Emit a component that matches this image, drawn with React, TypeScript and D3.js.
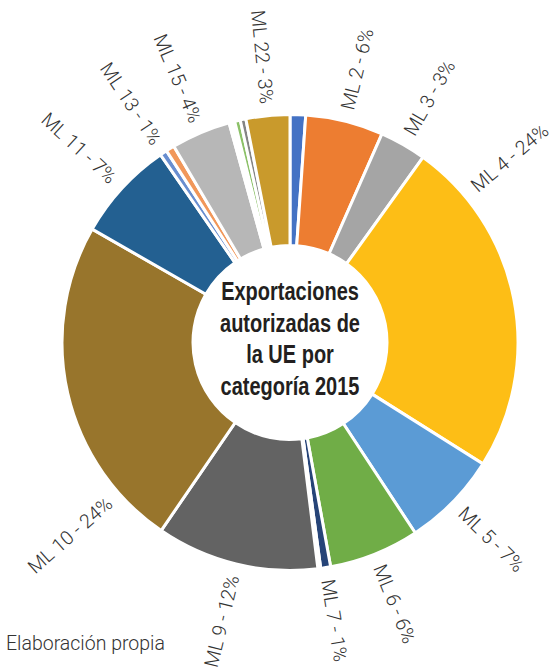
import React, { useEffect, useRef } from 'react';
import * as d3 from 'd3';

// categorías de material militar (ML) y su parte en % de las exportaciones
const categories = [
  'ML 1', 'ML 2', 'ML 3', 'ML 4', 'ML 5', 'ML 6', 'ML 7', 'ML 8', 'ML 9', 'ML 10', 'ML 11',
  'ML 12', 'ML 13', 'ML 14', 'ML 15', 'ML 16', 'ML 17', 'ML 18', 'ML 19', 'ML 20', 'ML 21', 'ML 22',
];
const shares = [
  1.1, 5.5, 3.3, 24.0, 6.8, 6.4, 0.7, 0.2, 11.5, 23.7, 7.1,
  0, 0.5, 0.6, 4.2, 0.2, 0.2, 0.4, 0, 0, 0.4, 3.1,
];
// etiquetas que se muestran en el gráfico
const labelled = ['ML 2', 'ML 3', 'ML 4', 'ML 5', 'ML 6', 'ML 7', 'ML 9', 'ML 10', 'ML 11', 'ML 13', 'ML 15', 'ML 22'];
const labelPct = ['6%', '3%', '24%', '7%', '6%', '1%', '12%', '24%', '7%', '1%', '4%', '3%'];
const titleLines = ['Exportaciones', 'autorizadas de', 'la UE por', 'categoría 2015'];
const source = 'Elaboración propia';

const palette = [
  '#4472C4', '#ED7D31', '#A5A5A5', '#FDBE16', '#5B9BD5', '#70AD47', '#264478', '#9E480E',
  '#636363', '#98752C', '#236091', '#43682B', '#698ED0', '#F1975A', '#B7B7B7', '#FFCD33',
  '#7CAFDD', '#8CC168', '#335AA1', '#D26012', '#848484', '#C99A2C',
];

const W = 552;
const H = 669;
const cx = 290;
const cy = 342.5;
const rOuter = 228;
const rInner = 97;
const rLabel = 240;
const labelFont = 'Roboto, "Liberation Sans", Arial, sans-serif';

type Slice = { name: string; value: number; color: string };

// las porciones grandes llevan la etiqueta cerca de su inicio
const labelAngle = (d: d3.PieArcDatum<Slice>) =>
  d.endAngle - d.startAngle > 1 ? d.startAngle + 0.25 : (d.startAngle + d.endAngle) / 2;

export default function App() {
  const svgRef = useRef<SVGSVGElement>(null);

  useEffect(() => {
    const svg = d3.select(svgRef.current);
    svg.selectAll('*').remove();

    const data: Slice[] = categories
      .map((c, i) => ({ name: c, value: shares[i], color: palette[i] }))
      .filter(d => d.value > 0);

    const pie = d3.pie<Slice>().sort(null).value(d => d.value);
    const arc = d3.arc<d3.PieArcDatum<Slice>>().innerRadius(rInner).outerRadius(rOuter);
    const arcs = pie(data);

    const g = svg.append('g').attr('transform', `translate(${cx},${cy})`);

    g.selectAll('path')
      .data(arcs)
      .join('path')
      .attr('d', arc)
      .attr('fill', d => d.data.color)
      .attr('stroke', '#fff')
      .attr('stroke-width', 3);

    // etiquetas radiales
    const withLabel = arcs.filter(d => labelled.includes(d.data.name));
    g.selectAll('text.lbl')
      .data(withLabel)
      .join('text')
      .attr('class', 'lbl')
      .attr('transform', d => {
        const a = labelAngle(d);
        const deg = (a * 180) / Math.PI;
        const x = rLabel * Math.sin(a);
        const y = -rLabel * Math.cos(a);
        const rot = deg < 180 ? deg - 90 : deg + 90;
        return `translate(${x},${y}) rotate(${rot})`;
      })
      .attr('text-anchor', d => (labelAngle(d) < Math.PI ? 'start' : 'end'))
      .attr('dominant-baseline', 'central')
      .attr('font-family', labelFont)
      .attr('font-weight', 300)
      .attr('font-size', 19.5)
      .attr('fill', '#333')
      .text(d => `${d.data.name} - ${labelPct[labelled.indexOf(d.data.name)]}`);

    // título central (condensado)
    const title = g.append('text')
      .attr('transform', 'scale(0.8,1)')
      .attr('text-anchor', 'middle')
      .attr('font-family', '"Liberation Sans", Arial, sans-serif')
      .attr('font-weight', 'bold')
      .attr('font-size', 25)
      .attr('fill', '#231f20');
    titleLines.forEach((t, i) => {
      title.append('tspan').attr('x', 0).attr('y', -42.5 + i * 31.7).text(t);
    });

    svg.append('text')
      .attr('x', 6)
      .attr('y', 650)
      .attr('font-family', labelFont)
      .attr('font-weight', 300)
      .attr('font-size', 19.5)
      .attr('fill', '#333')
      .text(source);
  }, []);

  return (
    <svg
      ref={svgRef}
      width={W}
      height={H}
      style={{ position: 'absolute', left: 0, top: 0, background: '#fff' }}
    />
  );
}
